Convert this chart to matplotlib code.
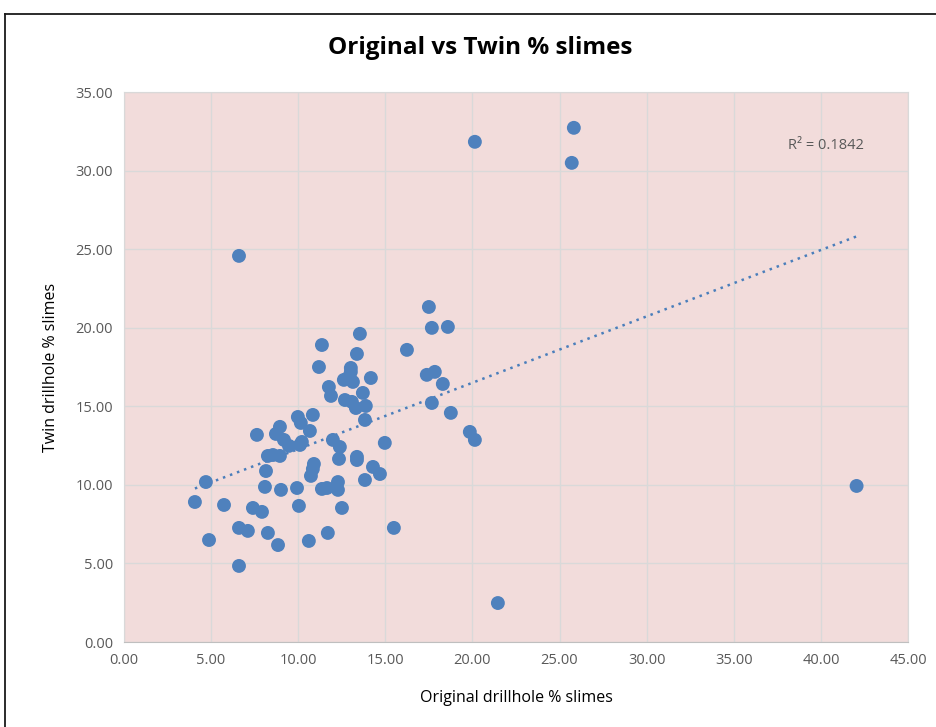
import matplotlib
matplotlib.use("Agg")
import matplotlib.pyplot as plt
import numpy as np
from matplotlib.lines import Line2D

# Original vs twin drillhole % slimes
original = [
    4.07, 4.70, 4.88, 5.74, 6.60, 6.60, 6.60, 7.11, 7.40, 7.63,
    7.92, 8.09, 8.15, 8.26, 8.26, 8.55, 8.72, 8.84, 8.95, 8.95,
    9.01, 9.18, 9.47, 9.93, 9.98, 10.10, 10.15, 10.21, 10.04, 10.67,
    10.61, 10.73, 10.84, 10.90, 10.84, 11.19, 11.36, 11.36, 11.65, 11.70,
    11.76, 11.88, 11.99, 12.39, 12.34, 12.28, 12.28, 12.51, 12.62, 12.68,
    12.91, 13.02, 13.02, 13.08, 13.14, 13.31, 13.37, 13.37, 13.37, 13.54,
    13.71, 13.83, 13.88, 13.83, 14.17, 14.29, 14.69, 14.97, 15.49, 16.24,
    17.38, 17.50, 17.67, 17.67, 17.84, 18.30, 18.59, 18.76, 19.85, 20.14,
    20.14, 21.46, 25.70, 25.82, 42.05,
]
twin = [
    8.91, 10.18, 6.49, 8.72, 24.57, 7.26, 4.84, 7.07, 8.53, 13.18,
    8.28, 9.87, 10.88, 11.84, 6.94, 11.90, 13.24, 6.17, 13.69, 11.84,
    9.68, 12.86, 12.48, 9.80, 14.32, 12.54, 13.94, 12.73, 8.66, 13.43,
    6.43, 10.57, 11.01, 11.33, 14.45, 17.50, 18.90, 9.74, 9.80, 6.94,
    16.23, 15.66, 12.86, 12.41, 11.65, 10.18, 9.68, 8.53, 16.68, 15.40,
    16.87, 17.19, 17.44, 15.28, 16.55, 14.89, 18.33, 11.78, 11.58, 19.61,
    15.85, 14.13, 15.02, 10.31, 16.80, 11.14, 10.69, 12.67, 7.26, 18.59,
    17.00, 21.32, 19.99, 15.21, 17.19, 16.42, 20.05, 14.58, 13.37, 12.86,
    31.83, 2.48, 30.49, 32.72, 9.93,
]
r_squared_label = "R² = 0.1842"
x_ticks = np.arange(0, 46, 5)
y_ticks = np.arange(0, 36, 5)

plt.rcParams["font.family"] = ["Open Sans", "DejaVu Sans"]

fig = plt.figure(figsize=(9.36, 7.27), dpi=100)
ax = fig.add_axes([124 / 936, 1 - 642 / 727, 784 / 936, 550 / 727])
ax.set_facecolor("#F2DCDB")

ax.scatter(original, twin, s=100, color="#4F81BD", edgecolors="none", zorder=3)

# linear trendline across the data range
slope, intercept = np.polyfit(original, twin, 1)
xs = np.array([min(original), max(original)])
ax.plot(xs, slope * xs + intercept, linestyle=(0, (1, 2.0)), color="#4A7EBB",
        linewidth=1.8, zorder=2)

ax.set_xlim(0, 45)
ax.set_ylim(0, 35)
ax.set_xticks(x_ticks)
ax.set_yticks(y_ticks)
ax.set_xticklabels([f"{v:.2f}" for v in x_ticks])
ax.set_yticklabels([f"{v:.2f}" for v in y_ticks])
ax.tick_params(length=0, labelsize=10.5, colors="#595959", pad=8)
ax.grid(True, color="#D9D9D9", linewidth=1.0, zorder=0)
ax.set_axisbelow(True)
for side, spine in ax.spines.items():
    spine.set_color("#D9D9D9")
ax.spines["bottom"].set_color("#BFBFBF")

ax.text(38.1, 31.6, r_squared_label, fontsize=10.5, color="#595959", va="center")

ax.set_xlabel("Original drillhole % slimes", fontsize=11.5, labelpad=16)
ax.set_ylabel("Twin drillhole % slimes", fontsize=11.5, labelpad=12)
fig.text(0.513, 1 - 48 / 727, "Original vs Twin % slimes", ha="center", va="center",
         fontsize=17.5, fontweight="bold")

# outer chart border (cut off at the right and bottom of the image)
fig.add_artist(Line2D([5 / 936, 5 / 936], [0, 1 - 14 / 727], transform=fig.transFigure,
                      color="#1a1a1a", linewidth=1.3))
fig.add_artist(Line2D([5 / 936, 1], [1 - 14 / 727, 1 - 14 / 727], transform=fig.transFigure,
                      color="#1a1a1a", linewidth=1.3))

fig.savefig("out.png", dpi=100)
